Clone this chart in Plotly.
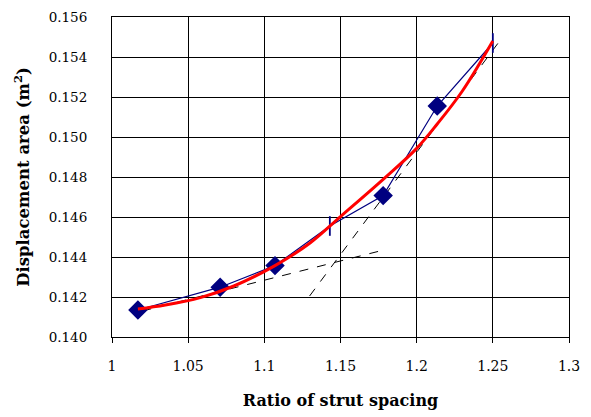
import plotly.graph_objects as go

# Measured data (blue series)
meas_x = [1.017, 1.071, 1.107, 1.143, 1.178, 1.2135, 1.25]
meas_y = [0.14135, 0.14249, 0.14357, 0.14555, 0.14707, 0.15155, 0.1547]
meas_symbols = ["diamond", "diamond", "diamond", "line-ns", "diamond", "diamond", "line-ns"]

# Fitted curve (red)
fit_x = [1.017, 1.035, 1.058, 1.08, 1.107, 1.13, 1.15, 1.178, 1.2, 1.2135, 1.23, 1.25]
fit_y = [0.14140, 0.14160, 0.14197, 0.14255, 0.14357, 0.14470, 0.14602, 0.14788, 0.14943, 0.15065, 0.15230, 0.15480]

# Tangent lines (black dashed)
tan1_x = [1.02, 1.18]
tan1_y = [0.1413, 0.14438]
tan2_x = [1.1297, 1.2533]
tan2_y = [0.14205, 0.15468]

x_ticks = [1, 1.05, 1.1, 1.15, 1.2, 1.25, 1.3]
x_tick_labels = ["1", "1.05", "1.1", "1.15", "1.2", "1.25", "1.3"]
y_ticks = [0.140, 0.142, 0.144, 0.146, 0.148, 0.150, 0.152, 0.154, 0.156]
y_tick_labels = ["%.3f" % v for v in y_ticks]

fig = go.Figure()
fig.add_trace(go.Scatter(x=tan1_x, y=tan1_y, mode="lines",
                         line=dict(color="black", width=1, dash="dash"), showlegend=False))
fig.add_trace(go.Scatter(x=tan2_x, y=tan2_y, mode="lines",
                         line=dict(color="black", width=1, dash="dash"), showlegend=False))
fig.add_trace(go.Scatter(x=meas_x, y=meas_y, mode="lines+markers",
                         line=dict(color="#000080", width=1.2),
                         marker=dict(symbol=meas_symbols, size=[13, 13, 13, 14, 13, 13, 14],
                                     color="#000080", opacity=1,
                                     line=dict(color="#000080", width=1.8)),
                         showlegend=False))
fig.add_trace(go.Scatter(x=fit_x, y=fit_y, mode="lines",
                         line=dict(color="#ff0000", width=3, shape="spline"), showlegend=False))

font_family = "DejaVu Serif"
# page body has an 8px margin, so the figure is sized to fill the rest
fig.update_layout(
    width=583, height=409,
    margin=dict(l=104, r=22, t=9, b=80, autoexpand=False),
    paper_bgcolor="white", plot_bgcolor="white",
    font=dict(family=font_family, size=14, color="black"),
    xaxis=dict(range=[1, 1.3], tickvals=x_ticks, ticktext=x_tick_labels,
               showgrid=True, gridcolor="black", gridwidth=1,
               showline=True, linecolor="black", linewidth=1, mirror=True,
               ticks="outside", ticklen=5, tickcolor="black",
               ticklabelstandoff=11, zeroline=False, automargin=False,
               tickfont=dict(family=font_family, size=14),
               title=dict(text="<b>Ratio of strut spacing</b>",
                          font=dict(family=font_family, size=16), standoff=22)),
    yaxis=dict(range=[0.140, 0.156], tickvals=y_ticks, ticktext=y_tick_labels,
               showgrid=True, gridcolor="black", gridwidth=1,
               showline=True, linecolor="black", linewidth=1, mirror=True,
               ticks="", ticklabelstandoff=21, zeroline=False, automargin=False,
               tickfont=dict(family=font_family, size=13.5),
               title=dict(text="<b>Displacement area (m<sup>2</sup>)</b>",
                          font=dict(family=font_family, size=16.5), standoff=14)),
)

fig.write_html("out.html")
